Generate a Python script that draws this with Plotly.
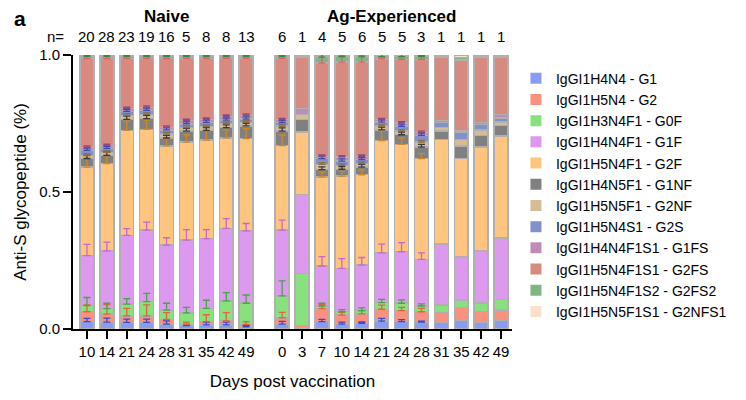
import numpy as np
import plotly.graph_objects as go

# ---------------- data ----------------
days_naive = ["10", "14", "21", "24", "28", "31", "35", "42", "49"]
days_ag = ["0", "3", "7", "10", "14", "21", "24", "28", "31", "35", "42", "49"]
n_naive = [20, 28, 23, 19, 16, 5, 8, 8, 13]
n_ag = [6, 1, 4, 5, 6, 5, 5, 3, 1, 1, 1, 1]
group_titles = ["Naive", "Ag-Experienced"]

glycan_names = [
    "IgGI1H4N4 - G1", "IgGI1H5N4 - G2", "IgGI1H3N4F1 - G0F", "IgGI1H4N4F1 - G1F",
    "IgGI1H5N4F1 - G2F", "IgGI1H4N5F1 - G1NF", "IgGI1H5N5F1 - G2NF", "IgGI1H5N4S1 - G2S",
    "IgGI1H4N4F1S1 - G1FS", "IgGI1H5N4F1S1 - G2FS", "IgGI1H5N4F1S2 - G2FS2",
    "IgGI1H5N5F1S1 - G2NFS1",
]

# mean fraction per bar: 9 naive bars then 12 Ag-experienced bars
g1 = [.027, .025, .024, .024, .018, .012, .015, .015, .008,
      .018, .006, .027, .018, .021, .029, .027, .025, .024, .033, .025, .033]
g2 = [.036, .029, .024, .024, .017, .005, .012, .015, .009,
      .023, .006, .047, .033, .034, .043, .040, .038, .037, .046, .038, .036]
g0f = [.022, .020, .043, .052, .034, .042, .048, .073, .077,
       .080, .191, .010, .012, .012, .024, .027, .021, .026, .027, .031, .039]
g1f = [.183, .211, .251, .261, .237, .265, .255, .264, .264,
       .240, .288, .146, .158, .166, .182, .188, .170, .223, .157, .190, .225]
g2f = [.323, .319, .383, .368, .362, .358, .359, .331, .337,
       .308, .228, .325, .337, .330, .410, .392, .368, .381, .359, .380, .371]
g1nf = [.031, .030, .040, .039, .029, .040, .036, .037, .046,
        .053, .045, .027, .025, .028, .039, .035, .042, .031, .046, .043, .039]
g2nf = [.012, .011, .015, .015, .015, .013, .014, .015, .013,
        .018, .019, .019, .014, .013, .013, .013, .018, .013, .024, .020, .012]
g2s = [.018, .014, .014, .015, .015, .014, .015, .012, .012,
       .013, .000, .021, .016, .014, .015, .018, .025, .018, .027, .019, .016]
g1fs = [.011, .011, .011, .011, .009, .012, .011, .014, .014,
        .011, .021, .008, .015, .012, .009, .012, .010, .008, .006, .007, .012]
g2fs = [.324, .317, .183, .179, .251, .227, .223, .212, .208,
        .224, .186, .340, .346, .344, .222, .232, .267, .229, .257, .237, .209]
g2fs2 = [.008, .008, .007, .007, .008, .007, .007, .007, .007,
         .007, .004, .022, .020, .019, .008, .010, .010, .005, .008, .005, .004]
g2nfs1 = [.005, .005, .005, .005, .005, .005, .005, .005, .005,
          .005, .006, .008, .006, .007, .006, .006, .006, .005, .010, .005, .004]

# upward error (SEM); None where n = 1
_ = None
g1_err = [.012, .015, .012, .012, .012, .005, .010, .010, .004,
          .010, _, .008, .007, .005, .010, .007, .004, _, _, _, _]
g2_err = [.025, .035, .027, .040, .025, .008, .025, .030, .010,
          .020, _, .015, .010, .012, .015, .012, .012, _, _, _, _]
g0f_err = [.030, .020, .020, .030, .025, .020, .030, .030, .030,
           .055, _, .010, .008, .010, .012, .012, .008, _, _, _, _]
g1f_err = [.041, .032, .024, .029, .027, .039, .033, .036, .027,
           .036, _, .034, .036, .028, .032, .033, .024, _, _, _, _]
g2f_err = [.036, .030, .034, .033, .027, .027, .049, .029, .036,
           .039, _, .018, .017, .018, .034, .023, .018, _, _, _, _]
g1nf_err = [.012, .012, .012, .012, .010, .010, .010, .010, .010,
            .012, _, .010, .010, .010, .010, .010, .010, _, _, _, _]
g2nf_err = [.006, .006, .006, .006, .006, .006, .006, .006, .006,
            .006, _, .006, .006, .006, .006, .006, .006, _, _, _, _]
g2s_err = [.008, .008, .008, .008, .008, .008, .008, .008, .008,
           .008, _, .008, .008, .008, .008, .008, .008, _, _, _, _]
g1fs_err = [.005, .005, .005, .005, .005, .005, .005, .005, .005,
            .005, _, .005, .005, .005, .005, .005, .005, _, _, _, _]
g2fs_err = [.040, .035, .035, .030, .035, .035, .025, .040, .033,
            .038, _, .036, .024, .024, .028, .018, .015, _, _, _, _]
g2fs2_err = [.005, .005, .005, .005, .005, .005, .005, .005, .005,
             .005, _, .020, .020, .020, .010, .010, .005, _, _, _, _]
g2nfs1_err = [_] * 21

# ---------------- styling ----------------
fill_colors = ["#8a9bf6", "#fb907f", "#88e07f", "#dd98ef", "#ffc57f", "#808080",
               "#d4bc94", "#8290cc", "#be8cb6", "#d98a80", "#80b683", "#fbe0cb"]
err_colors = ["#3a4ad0", "#e0663a", "#45a845", "#cc66cc", "#d4861e", "#3a3a3a",
              "#8a7048", "#4048b0", "#8a4a80", "#e06060", "#3a8a3a", "#cccccc"]
FONT = "Liberation Sans, Arial, sans-serif"

means = [g1, g2, g0f, g1f, g2f, g1nf, g2nf, g2s, g1fs, g2fs, g2fs2, g2nfs1]
errs = [g1_err, g2_err, g0f_err, g1f_err, g2f_err, g1nf_err, g2nf_err, g2s_err,
        g1fs_err, g2fs_err, g2fs2_err, g2nfs1_err]

group_gap = 1.81
x_naive = np.arange(len(days_naive), dtype=float)
x_ag = len(days_naive) - 1 + group_gap + np.arange(len(days_ag), dtype=float)
x_all = np.concatenate([x_naive, x_ag])
ticktext = days_naive + days_ag

fig = go.Figure()

# stacked bars
for name, vals, col in zip(glycan_names, means, fill_colors):
    fig.add_trace(go.Bar(
        x=x_all, y=vals, name=name, width=0.7, showlegend=False,
        marker=dict(color=col, line=dict(color="#b0b0b0", width=1.5)),
    ))

# error bars drawn on top of all bars (at each segment's stacked top)
cum = np.cumsum(np.array(means, dtype=float), axis=0)
for k, (name, e, ecol) in enumerate(zip(glycan_names, errs, err_colors)):
    if all(v is None for v in e):
        continue
    ys = [cum[k][i] if e[i] is not None else None for i in range(len(x_all))]
    ev = [v if v is not None else 0 for v in e]
    fig.add_trace(go.Scatter(
        x=x_all, y=ys, mode="markers", showlegend=False, hoverinfo="skip",
        marker=dict(size=1, color="rgba(0,0,0,0)"), cliponaxis=False,
        error_y=dict(type="data", symmetric=False, array=ev,
                     arrayminus=[0] * len(ev), color=ecol, thickness=1.3, width=3.5),
    ))

# legend entries
for name, col in zip(glycan_names, fill_colors):
    fig.add_trace(go.Scatter(
        x=[None], y=[None], mode="markers", name=name,
        marker=dict(symbol="square", size=11, color=col),
    ))

annotations = []
annotations.append(dict(text="n=", x=-0.041, xref="paper", y=1.067, yref="paper",
                        showarrow=False, xanchor="center", yanchor="middle",
                        font=dict(size=15)))
for xv, n in zip(x_all, n_naive + n_ag):
    annotations.append(dict(text=str(n), x=xv, xref="x", y=1.067, yref="paper",
                            showarrow=False, xanchor="center", yanchor="middle",
                            font=dict(size=15)))
annotations.append(dict(text="<b>%s</b>" % group_titles[0], x=float(x_naive.mean()),
                        xref="x", y=1.141, yref="paper", showarrow=False,
                        xanchor="center", yanchor="middle", font=dict(size=17)))
annotations.append(dict(text="<b>%s</b>" % group_titles[1], x=float(x_ag.mean()),
                        xref="x", y=1.141, yref="paper", showarrow=False,
                        xanchor="center", yanchor="middle", font=dict(size=17)))
annotations.append(dict(text="<b>a</b>", x=-0.14, xref="paper", y=1.135, yref="paper",
                        showarrow=False, xanchor="left", yanchor="middle",
                        font=dict(size=21)))

fig.update_layout(
    width=746, height=400,
    margin=dict(l=65, r=242, t=47, b=79),
    barmode="stack",
    plot_bgcolor="white", paper_bgcolor="white",
    font=dict(family=FONT, size=15, color="black"),
    annotations=annotations,
    legend=dict(x=1.009, xanchor="left", y=0.972, yanchor="top",
                traceorder="normal", font=dict(size=14), bgcolor="rgba(0,0,0,0)",
                itemclick=False),
    xaxis=dict(range=[-0.7, float(x_ag[-1]) + 0.55], tickvals=list(x_all), ticktext=ticktext,
               ticks="outside", ticklen=8, tickwidth=2, tickcolor="black",
               showline=True, linewidth=2, linecolor="black", showgrid=False,
               zeroline=False, tickfont=dict(size=15), automargin=False,
               title=dict(text="Days post vaccination", font=dict(size=17), standoff=16)),
    yaxis=dict(range=[0, 1.0], tickvals=[0, 0.5, 1.0], ticktext=["0.0", "0.5", "1.0"],
               ticks="outside", ticklen=8, tickwidth=2, tickcolor="black",
               showline=True, linewidth=2, linecolor="black", showgrid=False,
               zeroline=False, tickfont=dict(size=15), automargin=False,
               title=dict(text="Anti-S glycopeptide (%)", font=dict(size=17), standoff=8)),
)

fig.write_html("out.html")
